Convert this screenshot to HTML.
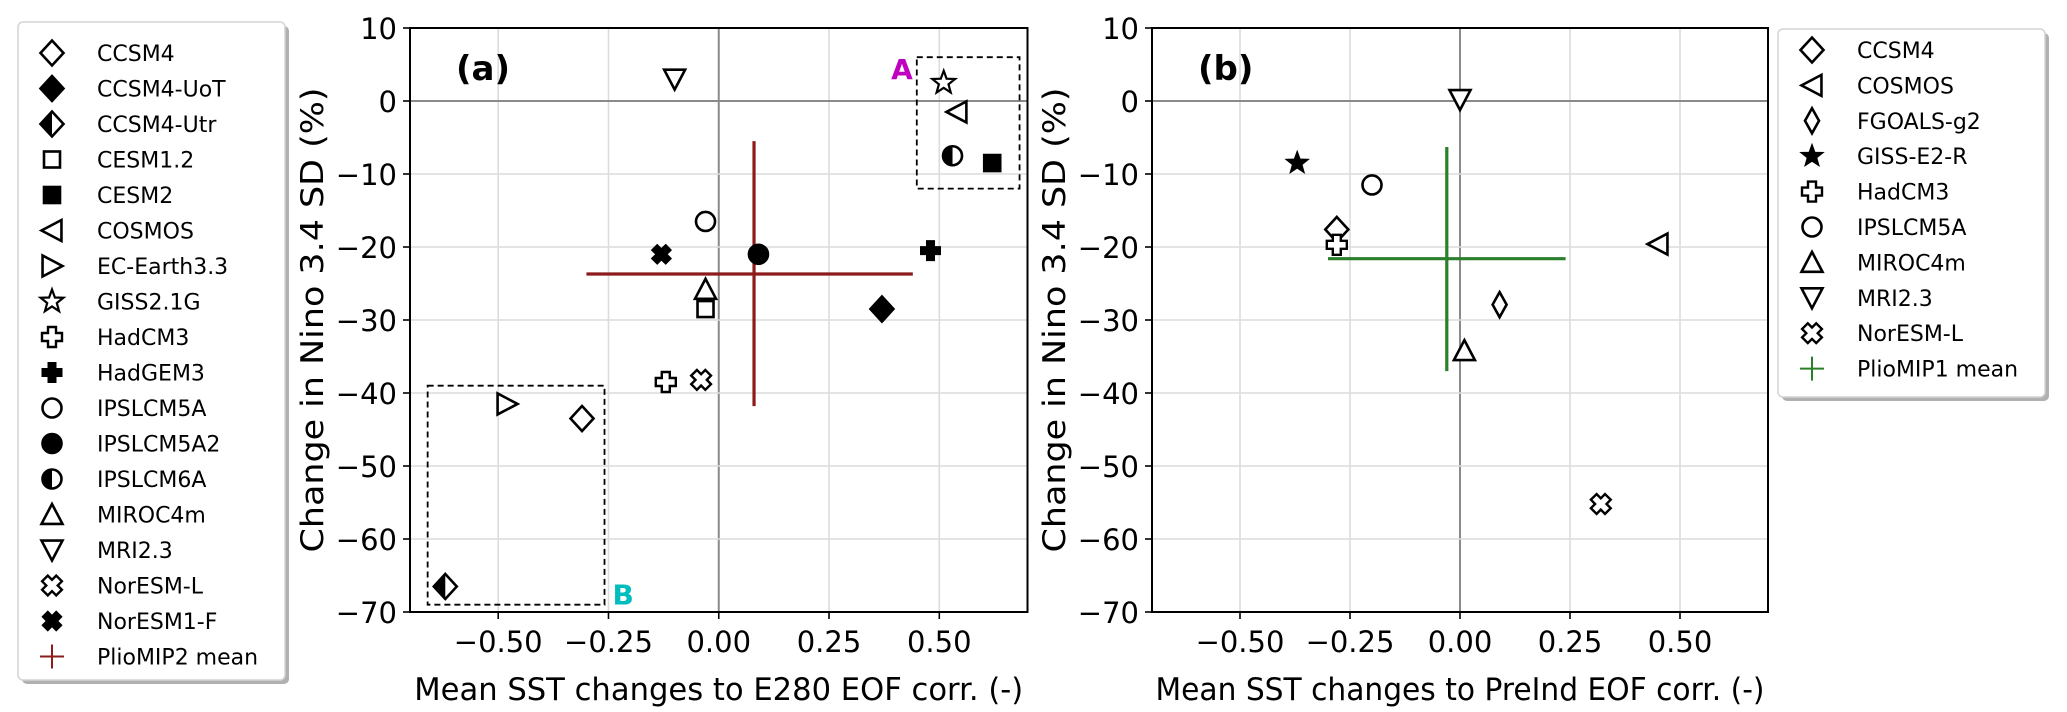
<!DOCTYPE html>
<html><head><meta charset="utf-8">
<style>
html,body{margin:0;padding:0;background:#fff;}
svg{display:block;font-family:"DejaVu Sans","Liberation Sans",sans-serif;}
</style></head>
<body>
<svg id="fig" width="2067" height="712" viewBox="0 0 2067 712" xmlns="http://www.w3.org/2000/svg"></svg>
<script>
// ---- Panel (a) data ----
const namesA = ["CCSM4","CCSM4-UoT","CCSM4-Utr","CESM1.2","CESM2","COSMOS","EC-Earth3.3","GISS2.1G","HadCM3","HadGEM3","IPSLCM5A","IPSLCM5A2","IPSLCM6A","MIROC4m","MRI2.3","NorESM-L","NorESM1-F"];
const xA = [-0.31, 0.37, -0.62, -0.03, 0.62, 0.54, -0.48, 0.51, -0.12, 0.48, -0.03, 0.09, 0.53, -0.03, -0.10, -0.04, -0.13];
const yA = [-43.5, -28.5, -66.5, -28.5, -8.5, -1.5, -41.5, 2.5, -38.5, -20.5, -16.5, -21, -7.5, -25.8, 3, -38.2, -21];
const mkA = ["D","D","Dh","s","s","<",">","*","P","P","o","o","oh","^","v","X","X"];
const fillA = [0,1,0,0,1,0,0,0,0,1,0,1,0,0,0,0,1];
const meanA = [0.08, -23.7];
const meanAx = [-0.30, 0.44];
const meanAy = [-5.5, -41.8];
// ---- Panel (b) data ----
const namesB = ["CCSM4","COSMOS","FGOALS-g2","GISS-E2-R","HadCM3","IPSLCM5A","MIROC4m","MRI2.3","NorESM-L"];
const xB = [-0.28, 0.45, 0.09, -0.37, -0.28, -0.20, 0.01, 0.0, 0.32];
const yB = [-17.6, -19.6, -27.9, -8.5, -19.7, -11.5, -34.2, 0.2, -55.2];
const mkB = ["D","<","d","*","P","o","^","v","X"];
const fillB = [0,0,0,1,0,0,0,0,0];
const meanB = [-0.03, -21.6];
const meanBx = [-0.30, 0.24];
const meanBy = [-6.3, -37];
// ---- Axes ticks ----
const xTicks = [-0.5, -0.25, 0, 0.25, 0.5];
const xTickLabels = ["\u22120.50","\u22120.25","0.00","0.25","0.50"];
const yTicks = [10,0,-10,-20,-30,-40,-50,-60,-70];
const yTickLabels = ["10","0","\u221210","\u221220","\u221230","\u221240","\u221250","\u221260","\u221270"];
const boxA = [0.449, 0.682, 6, -12];
const boxB = [-0.66, -0.259, -39, -69];

const NS = "http://www.w3.org/2000/svg";
const svg = document.getElementById("fig");
function el(tag, attrs, parent){
  const e = document.createElementNS(NS, tag);
  for (const k in attrs) e.setAttribute(k, attrs[k]);
  (parent||svg).appendChild(e);
  return e;
}
function makeAxis(px0, px1, py0, py1){
  return {
    x: v => px0 + (v + 0.7) / 1.4 * (px1 - px0),
    y: v => py0 + (10 - v) / 80 * (py1 - py0),
    px0, px1, py0, py1
  };
}
function marker(g, type, cx, cy, filled){
  const sw = 2.6, fc = filled ? "#000" : "#fff";
  let e;
  if (type === "D" || type === "Dh" || type === "d"){
    const hw = type === "d" ? 7 : 11.5, hh = 12.5;
    const pts = `${cx},${cy-hh} ${cx+hw},${cy} ${cx},${cy+hh} ${cx-hw},${cy}`;
    e = el("polygon",{points:pts, fill:fc, stroke:"#000","stroke-width":sw,"stroke-linejoin":"miter"},g);
    if (type === "Dh") el("polygon",{points:`${cx},${cy-hh} ${cx},${cy+hh} ${cx-hw},${cy}`, fill:"#000"},g);
  } else if (type === "s"){
    e = el("rect",{x:cx-8,y:cy-8,width:16,height:16,fill:fc,stroke:"#000","stroke-width":sw},g);
  } else if (type === "o" || type === "oh"){
    e = el("circle",{cx:cx,cy:cy,r:9.5,fill:fc,stroke:"#000","stroke-width":sw},g);
    if (type === "oh") el("path",{d:`M${cx},${cy-9.5} A9.5,9.5 0 0 0 ${cx},${cy+9.5} Z`,fill:"#000"},g);
  } else if ("<>^v".includes(type)){
    const r = 10.5;
    let pts;
    if (type === "^") pts = `${cx},${cy-r} ${cx+r},${cy+r*0.9} ${cx-r},${cy+r*0.9}`;
    if (type === "v") pts = `${cx},${cy+r} ${cx+r},${cy-r*0.9} ${cx-r},${cy-r*0.9}`;
    if (type === "<") pts = `${cx-r},${cy} ${cx+r*0.9},${cy-r} ${cx+r*0.9},${cy+r}`;
    if (type === ">") pts = `${cx+r},${cy} ${cx-r*0.9},${cy-r} ${cx-r*0.9},${cy+r}`;
    e = el("polygon",{points:pts,fill:fc,stroke:"#000","stroke-width":sw},g);
  } else if (type === "*"){
    let p = [];
    for (let i=0;i<10;i++){
      const r = i%2===0 ? 12 : 5;
      const a = -Math.PI/2 + i*Math.PI/5;
      p.push((cx + r*Math.cos(a)).toFixed(1)+","+(cy + r*Math.sin(a)).toFixed(1));
    }
    e = el("polygon",{points:p.join(" "),fill:fc,stroke:"#000","stroke-width":filled?1:2.2},g);
  } else if (type === "P" || type === "X"){
    const a = 4, L = 10;
    const pts = [[-a,-L],[a,-L],[a,-a],[L,-a],[L,a],[a,a],[a,L],[-a,L],[-a,a],[-L,a],[-L,-a],[-a,-a]];
    const rot = type === "X" ? Math.PI/4 : 0;
    const s = pts.map(([x,y]) => {
      const xr = x*Math.cos(rot) - y*Math.sin(rot), yr = x*Math.sin(rot) + y*Math.cos(rot);
      return (cx+xr).toFixed(1)+","+(cy+yr).toFixed(1);
    }).join(" ");
    e = el("polygon",{points:s,fill:fc,stroke:"#000","stroke-width":filled?1:2.4,"stroke-linejoin":"miter"},g);
  }
  return e;
}
function drawPanel(ax, panelId, xlabel){
  const g = el("g",{});
  
  
  xTicks.forEach((t,i) => {
    const X = ax.x(t);
    el("line",{x1:X,x2:X,y1:ax.py0,y2:ax.py1,stroke: t===0?"#8a8a8a":"#dcdcdc","stroke-width":t===0?2:1.6},g);
    el("line",{x1:X,x2:X,y1:ax.py1,y2:ax.py1+7,stroke:"#000","stroke-width":1.6},g);
    const tl = el("text",{x:X,y:ax.py1+40,"font-size":29,"text-anchor":"middle",fill:"#000"},g);
    tl.textContent = xTickLabels[i];
    
    
  });
  yTicks.forEach((t,i) => {
    const Y = ax.y(t);
    if (t !== 10 && t !== -70) el("line",{x1:ax.px0,x2:ax.px1,y1:Y,y2:Y,stroke: t===0?"#8a8a8a":"#dcdcdc","stroke-width":t===0?2:1.6},g);
    el("line",{x1:ax.px0-7,x2:ax.px0,y1:Y,y2:Y,stroke:"#000","stroke-width":1.6},g);
    const tl = el("text",{x:ax.px0-13,y:Y+11,"font-size":29,"text-anchor":"end",fill:"#000"},g);
    tl.textContent = yTickLabels[i];
    
    
  });
  el("rect",{x:ax.px0,y:ax.py0,width:ax.px1-ax.px0,height:ax.py1-ax.py0,fill:"none",stroke:"#000","stroke-width":2},g);
  const yl = el("text",{x:0,y:0,"font-size":31,"text-anchor":"middle",textLength:465,lengthAdjust:"spacingAndGlyphs",transform:`translate(${ax.px0-87},${(ax.py0+ax.py1)/2}) rotate(-90)`},g);
  yl.textContent = "Change in Nino 3.4 SD (%)";
  
  
  const xl = el("text",{x:(ax.px0+ax.px1)/2,y:ax.py1+88,"font-size":31,"text-anchor":"middle",textLength:609,lengthAdjust:"spacingAndGlyphs"},g);
  xl.textContent = xlabel;
  
  
  const pl = el("text",{x:ax.px0+46,y:ax.py0+52,"font-size":34,"font-weight":"bold"},g);
  pl.textContent = "(" + panelId + ")";
  
  
  return g;
}
function drawMean(g, ax, mean, mx, my, color, nm){
  const h = el("line",{x1:ax.x(mx[0]),x2:ax.x(mx[1]),y1:ax.y(mean[1]),y2:ax.y(mean[1]),stroke:color,"stroke-width":3.2},g);
  
  
  const v = el("line",{x1:ax.x(mean[0]),x2:ax.x(mean[0]),y1:ax.y(my[0]),y2:ax.y(my[1]),stroke:color,"stroke-width":3.2},g);
  
  
}

const axA = makeAxis(410, 1027.5, 28, 612);
const gA = drawPanel(axA, "a", "Mean SST changes to E280 EOF corr. (-)");
drawMean(gA, axA, meanA, meanAx, meanAy, "#8e1b1b", "pliomip2-mean");
[[boxA,"box-a"],[boxB,"box-b"]].forEach(([b,nm]) => {
  const r = el("rect",{x:axA.x(b[0]),y:axA.y(b[2]),width:axA.x(b[1])-axA.x(b[0]),height:axA.y(b[3])-axA.y(b[2]),fill:"none",stroke:"#000","stroke-width":1.8,"stroke-dasharray":"6,4"},gA);
  
  
});
const lA = el("text",{x:axA.x(boxA[0])-4,y:axA.y(3),"font-size":28,"font-weight":"bold",fill:"#c000c0","text-anchor":"end"},gA);
lA.textContent = "A";


const lB = el("text",{x:axA.x(boxB[1])+8,y:axA.y(-69),"font-size":28,"font-weight":"bold",fill:"#00bdbd"},gA);
lB.textContent = "B";


namesA.forEach((n,i) => {
  const m = marker(gA, mkA[i], axA.x(xA[i]), axA.y(yA[i]), fillA[i]);
  
  
});

const axB = makeAxis(1152, 1768, 28, 612);
const gB = drawPanel(axB, "b", "Mean SST changes to PreInd EOF corr. (-)");
drawMean(gB, axB, meanB, meanBx, meanBy, "#2a7f2a", "pliomip1-mean");
namesB.forEach((n,i) => {
  const m = marker(gB, mkB[i], axB.x(xB[i]), axB.y(yB[i]), fillB[i]);
  
  
});

function legend(x0, y0, w, h, rowY0, dy, names, mks, fills, meanLabel, meanColor, nm){
  const g = el("g",{});
  
  
  el("rect",{x:x0+4,y:y0+4,width:w,height:h,rx:5,fill:"#b0b0b0"},g);
  el("rect",{x:x0,y:y0,width:w,height:h,rx:5,fill:"#fff",stroke:"#d4d4d4","stroke-width":1.5},g);
  names.forEach((n,i) => {
    const y = rowY0 + i*dy;
    const e = el("g",{},g);
    
    
    marker(e, mks[i], x0+34, y, fills[i]);
    const t = el("text",{x:x0+79,y:y+8,"font-size":22},e);
    t.textContent = n;
  });
  const y = rowY0 + names.length*dy;
  const e = el("g",{},g);
  
  
  el("line",{x1:x0+22,x2:x0+46,y1:y,y2:y,stroke:meanColor,"stroke-width":2},e);
  el("line",{x1:x0+34,x2:x0+34,y1:y-12,y2:y+12,stroke:meanColor,"stroke-width":2},e);
  const t = el("text",{x:x0+79,y:y+8,"font-size":22},e);
  t.textContent = meanLabel;
}
legend(18, 22, 267, 658, 53, 35.5, namesA, mkA, fillA, "PlioMIP2 mean", "#8e1b1b", "legend-a");
legend(1778, 29, 267, 368, 50, 35.4, namesB, mkB, fillB, "PlioMIP1 mean", "#2a7f2a", "legend-b");
</script>
</body></html>
